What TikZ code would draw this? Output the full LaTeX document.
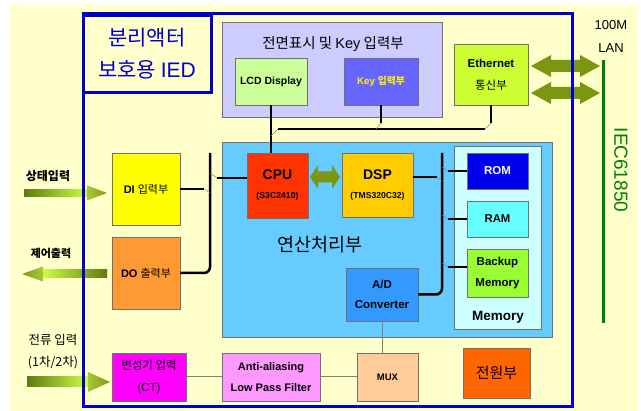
\documentclass[tikz,border=0pt]{standalone}
\usepackage{fontspec}
\setmainfont{Liberation Sans}
\newfontfamily\kr{Noto Sans CJK KR}
\usetikzlibrary{calc}
\definecolor{cBg}{HTML}{FFFFCC}
\definecolor{cFrame}{HTML}{0000CC}
\definecolor{cBorder}{HTML}{707070}
\definecolor{cFront}{HTML}{CCCCFF}
\definecolor{cLCD}{HTML}{CCFF99}
\definecolor{cKey}{HTML}{6666FF}
\definecolor{cEth}{HTML}{CCFF33}
\definecolor{cProc}{HTML}{66CCFF}
\definecolor{cCPU}{HTML}{FF3300}
\definecolor{cDSP}{HTML}{FFCC00}
\definecolor{cMem}{HTML}{CCFFFF}
\definecolor{cROM}{HTML}{0000EE}
\definecolor{cRAM}{HTML}{66FFFF}
\definecolor{cBak}{HTML}{99FF33}
\definecolor{cAD}{HTML}{3399FF}
\definecolor{cDI}{HTML}{FFFF00}
\definecolor{cDO}{HTML}{FF9933}
\definecolor{cCT}{HTML}{FF00FF}
\definecolor{cAA}{HTML}{FF99FF}
\definecolor{cMUX}{HTML}{FFCC99}
\definecolor{cPwr}{HTML}{FF6600}
\definecolor{cLan}{HTML}{008000}
\definecolor{cSig}{HTML}{808070}
\definecolor{arrDark}{HTML}{5E7A12}
\definecolor{arrLight}{HTML}{CCFF44}
\definecolor{arrHeadA}{HTML}{A8C838}
\definecolor{arrHeadB}{HTML}{7E9A1E}
\definecolor{dblEdge}{HTML}{7A9612}
\definecolor{dblMid}{HTML}{DDFF55}
% fat arrows: x-tail, x-tip, y, half shaft, half head, head length
\newcommand\fatArrR[6]{%
  \shade[left color=arrDark, right color=arrLight] ({#1},{#3-#4}) rectangle ({#2-#6},{#3+#4});
  \shade[left color=arrHeadA, right color=arrHeadB] ({#2-#6},{#3-#5}) -- ({#2},{#3}) -- ({#2-#6},{#3+#5}) -- cycle;}
\newcommand\fatArrL[6]{%
  \shade[left color=arrLight, right color=arrDark] ({#2+#6},{#3-#4}) rectangle ({#1},{#3+#4});
  \shade[left color=arrHeadB, right color=arrHeadA] ({#2+#6},{#3-#5}) -- ({#2},{#3}) -- ({#2+#6},{#3+#5}) -- cycle;}
\newcommand\fatArrD[6]{%
  \shade[left color=dblEdge, middle color=dblMid, right color=dblEdge]
  ({#1},{#3}) -- ({#1+#6},{#3-#5}) -- ({#1+#6},{#3-#4}) -- ({#2-#6},{#3-#4}) -- ({#2-#6},{#3-#5})
  -- ({#2},{#3}) -- ({#2-#6},{#3+#5}) -- ({#2-#6},{#3+#4}) -- ({#1+#6},{#3+#4}) -- ({#1+#6},{#3+#5}) -- cycle;}
\begin{document}
\begin{tikzpicture}[x=1pt,y=-1pt,
  box/.style={draw=cBorder, line width=0.7pt, inner sep=0pt, align=center},
  bus/.style={line width=2.5pt, draw=black},
  tap/.style={line width=0.5pt, draw=gray},
  sig/.style={line width=1pt, draw=cSig},
  lbl/.style={inner sep=0pt, align=center},
  sb/.style={font=\bfseries\fontsize{#1}{#1}\selectfont}]
\useasboundingbox (0,0) rectangle (641,411);
\fill[cBg] (10,5) rectangle (638,411);

% fat arrows
\fatArrR{24}{107}{193}{3.5}{7.5}{20}
\fatArrL{107}{22}{274}{4}{7.5}{21}
\fatArrR{27}{110}{382}{5}{10}{22}
\fatArrD{531}{600}{66}{6}{11}{20}
\fatArrD{531}{600}{93}{6}{11}{20}

% outer frame and title
\draw[cFrame, line width=3pt] (83,14) rectangle (572,407);
\node[draw=cFrame, line width=3pt, minimum width=128pt, minimum height=77pt, inner sep=0pt, align=center,
  text=cFrame, font=\kr\fontsize{21}{32}\selectfont] (title) at (147,54) {분리액터\\보호용 {\rmfamily IED}};

% front panel
\node[box, fill=cFront, minimum width=220pt, minimum height=95pt] (front) at (332,69.5) {};
\node[lbl, font=\kr\fontsize{14.5}{16}\selectfont] (fronttitle) at (333,44) {전면표시 및 {\rmfamily Key} 입력부};
\node[box, fill=cLCD, minimum width=72pt, minimum height=47pt, sb=10.5] (lcd) at (271,81.5) {LCD Display};
\node[box, fill=cKey, minimum width=74pt, minimum height=47pt, text=yellow, sb=9.8] (key) at (381,81.5) {Key {\kr 입력부}};
\node[box, fill=cEth, minimum width=74pt, minimum height=61pt, font=\bfseries\fontsize{11.5}{22}\selectfont] (eth) at (491,74.5) {Ethernet\\{\kr\mdseries 통신부}};

% processing block
\node[box, fill=cProc, minimum width=330pt, minimum height=195pt] (proc) at (387,239.5) {};
\node[lbl, font=\kr\fontsize{18.5}{20}\selectfont] (proctitle) at (320,245) {연산처리부};
\node[box, fill=cCPU, minimum width=61pt, minimum height=65pt, font=\bfseries\fontsize{14}{16}\selectfont] (cpu) at (277.5,185.5) {CPU\\[3pt]{\fontsize{8.7}{10}\selectfont (S3C2410)}};
\node[box, fill=cDSP, minimum width=71pt, minimum height=64pt, font=\bfseries\fontsize{14}{16}\selectfont] (dsp) at (377.5,185) {DSP\\[3pt]{\fontsize{8.6}{10}\selectfont (TMS320C32)}};
\node[box, fill=cMem, minimum width=87pt, minimum height=183pt] (mem) at (497.5,237.5) {};
\node[lbl, sb=13.5] (memtitle) at (498,317) {Memory};
\node[box, fill=cROM, minimum width=61pt, minimum height=36pt, text=white, sb=11.5] (rom) at (497.5,171) {ROM};
\node[box, fill=cRAM, minimum width=61pt, minimum height=36pt, sb=11.3] (ram) at (497.5,219) {RAM};
\node[box, fill=cBak, minimum width=61pt, minimum height=48pt, font=\bfseries\fontsize{11.5}{21}\selectfont] (bak) at (497.5,273) {Backup\\Memory};
\node[box, fill=cAD, minimum width=72pt, minimum height=53pt, font=\bfseries\fontsize{11.5}{20}\selectfont] (ad) at (382,294.5) {A/D\\Converter};
\fatArrD{310}{340}{177}{5.5}{12}{8}

% I/O blocks
\node[box, fill=cDI, minimum width=68pt, minimum height=72pt, font=\bfseries\fontsize{11}{13}\selectfont] (di) at (146,189) {DI {\kr\mdseries 입력부}};
\node[box, fill=cDO, minimum width=68pt, minimum height=72pt, font=\bfseries\fontsize{11}{13}\selectfont] (do) at (146,273) {DO {\kr\mdseries 출력부}};
\node[box, fill=cCT, minimum width=74pt, minimum height=48pt, font=\kr\fontsize{11.5}{22}\selectfont] (ct) at (149,377) {변성기 입력\\{\rmfamily (CT)}};
\node[box, fill=cAA, minimum width=98pt, minimum height=48pt, font=\bfseries\fontsize{11}{21}\selectfont] (aa) at (271,377) {Anti-aliasing\\Low Pass Filter};
\node[box, fill=cMUX, minimum width=61pt, minimum height=48pt, sb=9.5] (mux) at (387.5,377) {MUX};
\node[box, fill=cPwr, minimum width=67pt, minimum height=50pt, font=\kr\fontsize{15}{16}\selectfont] (pwr) at (496.5,373) {전원부};

% outside labels
\node[lbl, font=\kr\bfseries\fontsize{12}{13}\selectfont] (lin) at (48,176) {상태입력};
\node[lbl, font=\kr\bfseries\fontsize{11}{13}\selectfont] (lout) at (51,253) {제어출력};
\node[lbl, font=\kr\fontsize{12.5}{22}\selectfont] (lcur) at (53,352) {전류 입력\\(1차/2차)};
\node[lbl, font=\fontsize{13}{23}\selectfont] (lan) at (611,36.5) {100M\\LAN};
\coordinate (lanT) at (603,60);
\coordinate (lanB) at (603,323);
\draw[cLan, line width=3pt] (lanT) -- (lanB);
\node[lbl, text=cLan, rotate=-90, font=\fontsize{19}{20}\selectfont] (iec) at (621,170) {IEC61850};

% upper bus
\draw[bus] (lcd.south) -- (lcd.south |- cpu.north);
\coordinate (tb1) at (278,129);
\coordinate (tb2) at (485,129);
\draw[bus] (tb1) -- (tb2);
\draw[tap] (271,136) -- (tb1);
\draw[bus] (key.south) -- ++(0,18) coordinate (keyE);
\draw[tap] (keyE) -- (376,129);
\draw[bus] (eth.south) -- ++(0,18) coordinate (ethE);
\draw[tap] (ethE) -- (tb2);

% left bus
\draw[bus, rounded corners=6pt] (210,153) -- (210,0 |- do.east) -- (do.east);
\draw[bus] (di.east) -- ++(24,0) coordinate (diE);
\draw[tap] (diE) -- (210,193);
\draw[bus] (217,178) -- (cpu.west |- 217,178);
\draw[tap] (210,173) -- (217,178);

% right bus
\draw[bus, rounded corners=6pt] (442,153) -- (442,0 |- ad.east) -- (ad.east);
\draw[bus] (dsp.east |- 437,177) -- (437,177);
\draw[tap] (437,177) -- (442,181);
\draw[bus] (rom.west) -- ++(-19,0) coordinate (romE);
\draw[tap] (442,167) -- (romE);
\draw[bus] (ram.west) -- ++(-19,0) coordinate (ramE);
\draw[tap] (442,215) -- (ramE);
\draw[bus] (bak.west |- 467,267) -- (448,267);
\draw[tap] (442,263) -- (448,267);

% analog signal path
\draw[sig] (ct.east) -- (aa.west);
\draw[sig] (aa.east) -- (mux.west);
\draw[sig] (ad.south) -- (ad.south |- mux.north);
\end{tikzpicture}
\end{document}
